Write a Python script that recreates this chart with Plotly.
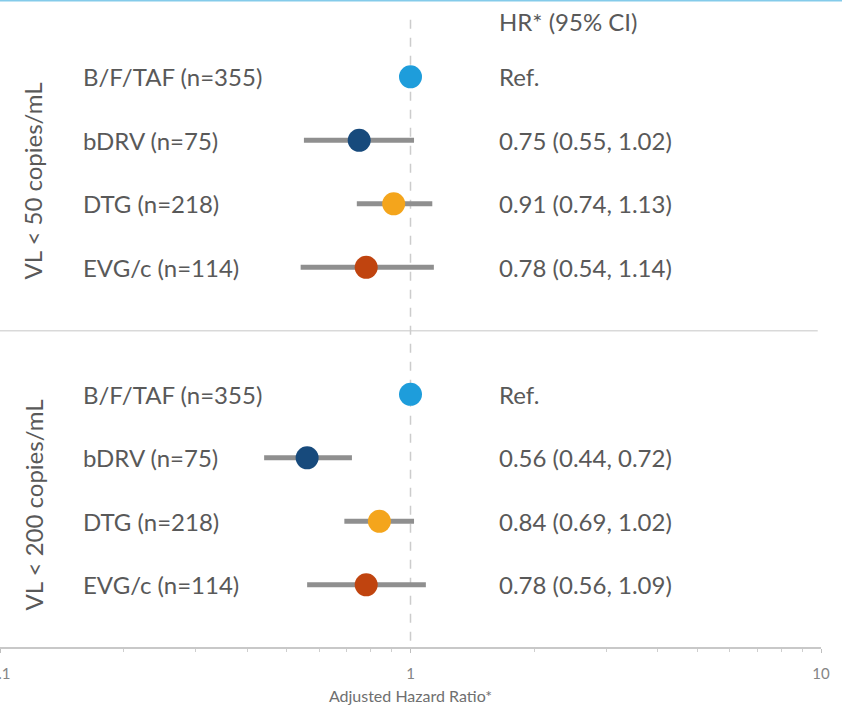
import plotly.graph_objects as go

# Forest plot data: adjusted hazard ratios with 95% CI by regimen and VL threshold
groups = ["VL < 50 copies/mL", "VL < 200 copies/mL"]
regimens = ["B/F/TAF (n=355)", "bDRV (n=75)", "DTG (n=218)", "EVG/c (n=114)"]
colors = ["#1e9ddb", "#174a7c", "#f4a51c", "#c0440f"]

hr = [[1.00, 0.75, 0.91, 0.78],
      [1.00, 0.56, 0.84, 0.78]]
ci_low = [[None, 0.55, 0.74, 0.54],
          [None, 0.44, 0.69, 0.56]]
ci_high = [[None, 1.02, 1.13, 1.14],
           [None, 0.72, 1.02, 1.09]]
hr_text = [["Ref.", "0.75 (0.55, 1.02)", "0.91 (0.74, 1.13)", "0.78 (0.54, 1.14)"],
           ["Ref.", "0.56 (0.44, 0.72)", "0.84 (0.69, 1.02)", "0.78 (0.56, 1.09)"]]

x_ticks = [0.1, 1, 10]
x_tick_labels = ["0.1", "1", "10"]
minor_ticks = [0.2, 0.3, 0.4, 0.5, 0.6, 0.7, 0.8, 0.9, 2, 3, 4, 5, 6, 7, 8, 9]

TEXT = "#595959"
FONT = "Lato"
FS = 24

W, H = 842, 708
ML, MR, MT, MB = 0, 21, 0, 61
plot_w = W - ML - MR

fig = go.Figure()

# row positions: 4 rows per group, one empty row between groups
rows_per_group = len(regimens)
annotations = []
for g, gname in enumerate(groups):
    base = g * (rows_per_group + 1)
    ys = [base + i for i in range(rows_per_group)]
    # CI whiskers
    for i in range(rows_per_group):
        if ci_low[g][i] is not None:
            fig.add_trace(go.Scatter(
                x=[ci_low[g][i], ci_high[g][i]], y=[ys[i], ys[i]],
                mode="lines", line=dict(color="#8f8f8f", width=5),
                hoverinfo="skip", showlegend=False))
    # point estimates
    fig.add_trace(go.Scatter(
        x=hr[g], y=ys, mode="markers",
        marker=dict(size=23, color=colors, line=dict(width=0)),
        showlegend=False))
    for i in range(rows_per_group):
        annotations.append(dict(
            x=81 / plot_w, xref="paper", y=ys[i], yref="y",
            text=regimens[i], showarrow=False, xanchor="left", yanchor="middle",
            font=dict(family=FONT, size=FS, color=TEXT)))
        annotations.append(dict(
            x=497 / plot_w, xref="paper", y=ys[i], yref="y",
            text=hr_text[g][i], showarrow=False, xanchor="left", yanchor="middle",
            font=dict(family=FONT, size=FS, color=TEXT)))
    annotations.append(dict(
        x=33 / plot_w, xref="paper", y=base + 1.65 + 0.1 * g, yref="y",
        text=gname, textangle=-90, showarrow=False,
        xanchor="center", yanchor="middle",
        font=dict(family=FONT, size=FS, color=TEXT)))

annotations.append(dict(
    x=497 / plot_w, xref="paper", y=-0.87, yref="y",
    text="HR* (95% CI)", showarrow=False, xanchor="left", yanchor="middle",
    font=dict(family=FONT, size=FS, color=TEXT)))

shapes = [
    # reference line at HR = 1
    dict(type="line", x0=1, x1=1, xref="x", y0=-0.9, y1=2 * rows_per_group + 1,
         yref="y", line=dict(color="#cccccc", width=1.5, dash="dash"), layer="below"),
    # separator between the two thresholds
    dict(type="line", x0=0, x1=0.996, xref="paper", y0=rows_per_group,
         y1=rows_per_group, yref="y", line=dict(color="#d9d9d9", width=1.5),
         layer="below"),
    # top border
    dict(type="line", x0=0, x1=W / plot_w, xref="paper", y0=1, y1=1, yref="paper",
         line=dict(color="#84cbea", width=3)),
]

fig.update_layout(
    width=W, height=H,
    margin=dict(l=ML, r=MR, t=MT, b=MB, autoexpand=False),
    paper_bgcolor="white", plot_bgcolor="white",
    annotations=annotations, shapes=shapes,
    xaxis=dict(
        type="log", range=[-1, 1], automargin=False,
        tickvals=x_ticks, ticktext=x_tick_labels,
        ticks="outside", ticklen=4, tickcolor="#bfbfbf",
        ticklabelstandoff=8, ticklabeloverflow="allow",
        tickfont=dict(family=FONT, size=15, color="#858585"),
        showline=True, linecolor="#c8c8c8", linewidth=1.5,
        showgrid=False, zeroline=False,
        minor=dict(tickvals=minor_ticks, ticks="outside", ticklen=3,
                   tickcolor="#cfcfcf", showgrid=False),
        title=dict(text="Adjusted Hazard Ratio*", standoff=10,
                   font=dict(family=FONT, size=16, color="#6f6f6f")),
    ),
    yaxis=dict(
        range=[2 * rows_per_group + 1 - 0.02, -1.21],
        visible=False, showgrid=False, zeroline=False,
    ),
)

fig.write_html("out.html")
